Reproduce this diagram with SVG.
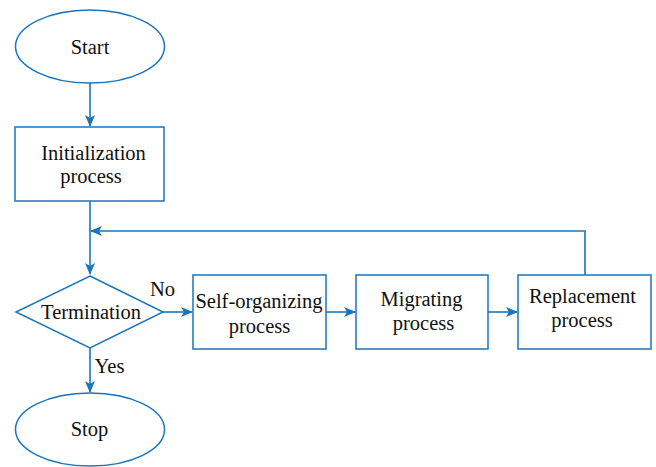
<svg xmlns="http://www.w3.org/2000/svg" width="656" height="467" viewBox="0 0 656 467">
<defs>
<marker id="ah" viewBox="0 0 12 10" refX="11" refY="5" markerWidth="12" markerHeight="10" markerUnits="userSpaceOnUse" orient="auto">
<path d="M0,0 L12,5 L0,10 L3,5 Z" fill="#1a75bc"/>
</marker>
</defs>
<style>
.s{fill:#fff;stroke:#1a75bc;stroke-width:1.5}
.t{font-family:"Liberation Serif","Times New Roman",serif;font-size:20.5px;fill:#111;text-anchor:middle}
.c{fill:none;stroke:#1a75bc;stroke-width:1.6}
</style>
<rect width="656" height="467" fill="#fff"/>
<g id="connectors">
<path class="c" d="M90,83 V126" marker-end="url(#ah)"/>
<path class="c" d="M90,201 V274" marker-end="url(#ah)"/>
<path class="c" d="M585,275 V231 H91" marker-end="url(#ah)"/>
<path class="c" d="M163,312 H192" marker-end="url(#ah)"/>
<path class="c" d="M326,312 H355" marker-end="url(#ah)"/>
<path class="c" d="M488,312 H517" marker-end="url(#ah)"/>
<path class="c" d="M90,348 V392" marker-end="url(#ah)"/>
<text class="t" x="162.5" y="296">No</text>
<text class="t" x="109.5" y="373">Yes</text>
</g>
<g id="start">
<ellipse class="s" cx="90" cy="46.5" rx="74.5" ry="36.5"/>
<text class="t" x="90" y="53.5">Start</text>
</g>
<g id="init">
<rect class="s" x="15" y="127" width="149" height="74"/>
<text class="t" x="93.5" y="160">Initialization</text>
<text class="t" x="91" y="183">process</text>
</g>
<g id="termination">
<polygon class="s" points="90,276 163,312 90,348 16,312"/>
<text class="t" x="91" y="319">Termination</text>
</g>
<g id="selforg">
<rect class="s" x="193" y="275" width="133" height="74"/>
<text class="t" x="259" y="308">Self-organizing</text>
<text class="t" x="259.5" y="333">process</text>
</g>
<g id="migrating">
<rect class="s" x="356" y="275" width="132" height="74"/>
<text class="t" x="421.5" y="306">Migrating</text>
<text class="t" x="423.5" y="330">process</text>
</g>
<g id="replacement">
<rect class="s" x="518" y="275" width="133" height="74"/>
<text class="t" x="582.5" y="303">Replacement</text>
<text class="t" x="582" y="327">process</text>
</g>
<g id="stop">
<ellipse class="s" cx="90" cy="429.5" rx="74.5" ry="36.5"/>
<text class="t" x="89.5" y="436">Stop</text>
</g>
</svg>
